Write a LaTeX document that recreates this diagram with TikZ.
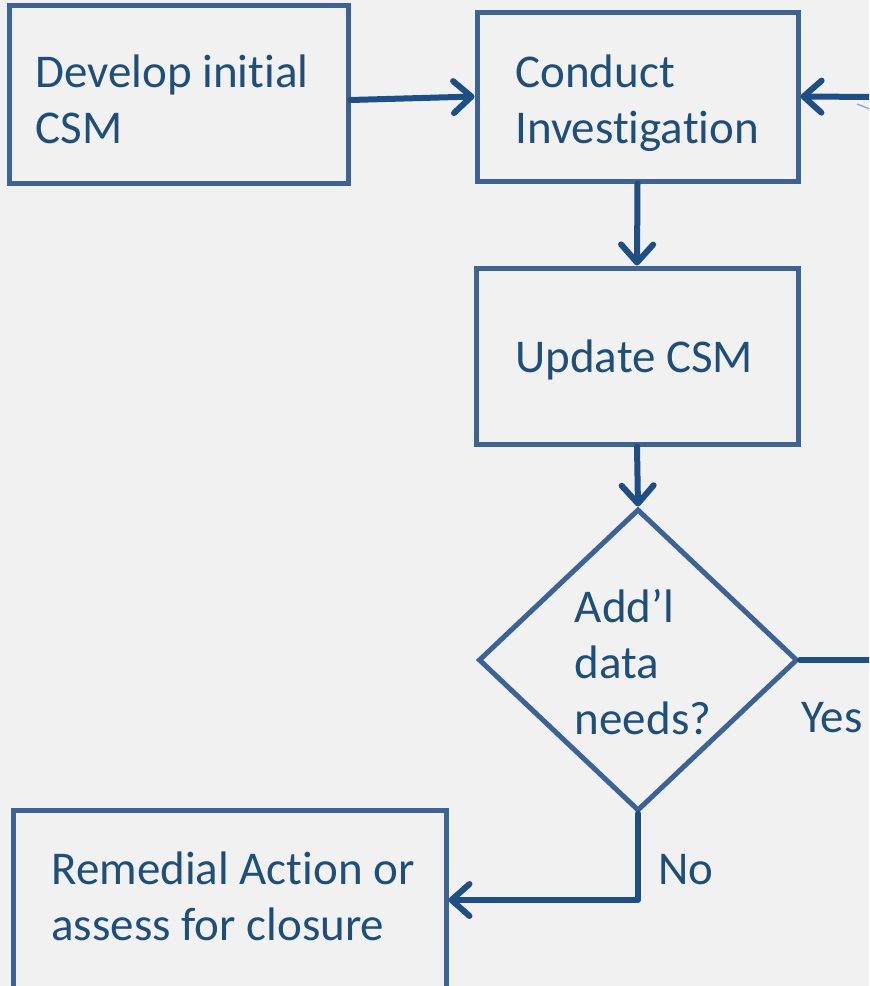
\documentclass[tikz,border=0pt]{standalone}
\usepackage{fontspec}
\setmainfont[Ligatures=NoCommon]{Carlito}
\usepackage{tikz}
\usetikzlibrary{shapes.geometric,arrows.meta}
\definecolor{bg}{HTML}{F1F1F1}
\definecolor{frame}{HTML}{3D6394}
\definecolor{flow}{HTML}{1F4E85}
\definecolor{ink}{HTML}{1F4E79}
\definecolor{faint}{HTML}{7F9FCF}
\tikzset{
  box/.style={draw=frame, line width=2.5pt, rectangle, inner sep=0pt},
  dec/.style={draw=frame, line width=2.5pt, diamond, inner sep=0pt, minimum width=159.5pt, minimum height=151pt},
  lab/.style={text=ink, font=\fontsize{23.5}{28}\selectfont, inner sep=0pt, align=left},
  boxtxt/.style={lab, anchor=base west},
  flowline/.style={draw=flow, line width=3pt, line cap=round, line join=round},
  arr/.style={flowline, -{Straight Barb[length=9pt,width=16pt,line width=3pt,round]}},
}
\begin{document}
\begin{tikzpicture}[x=0.5pt,y=-0.5pt]
  \useasboundingbox (0,0) rectangle (869,986);
  \fill[bg] (0,0) rectangle (869,986);
  \clip (0,0) rectangle (869,986);
  % boxes
  \node[box, minimum width=169.5pt, minimum height=89pt] (dev) at (178.5,94) {};
  \node[box, minimum width=160.5pt, minimum height=84.5pt] (inv) at (637.5,96.5) {};
  \node[box, minimum width=161pt, minimum height=88pt] (upd) at (637,356) {};
  \node[dec] (q) at (638,660) {};
  \node[box, minimum width=216.5pt, minimum height=94pt] (rem) at (229.5,904) {};
  % texts (anchored at the last baseline)
  \node[boxtxt] (devtxt) at (35,143) {Develop initial\\CSM};
  \node[boxtxt] (invtxt) at (515,143) {Conduct\\Investigation};
  \node[boxtxt] (updtxt) at (515,372) {Update CSM};
  \node[lab] (qtxt) at (643,662) {Add’l\\data\\needs?};
  \node[boxtxt] (remtxt) at (51,940) {Remedial Action or\\assess for closure};
  % loop ends (off the page)
  \coordinate (loopin) at (880,97);
  \coordinate (loopout) at (880,660);
  % connectors
  \draw[arr] ([yshift=-3pt]dev.east) -- (inv.west);
  \draw[arr] (inv.south) -- (upd.north);
  \draw[arr] (upd.south) -- (q.north);
  \draw[arr] (q.south) |- ([yshift=2pt]rem.east);
  \draw[flowline] (q.east) -- (loopout);
  \draw[arr] (loopin) -- (inv.east);
  \draw[faint, line width=0.6pt] (857,104) -- (875,111);
  % branch labels
  \node[lab] (yes) at (832,718) {Yes};
  \node[lab] (no) at (686,870) {No};
\end{tikzpicture}
\end{document}
